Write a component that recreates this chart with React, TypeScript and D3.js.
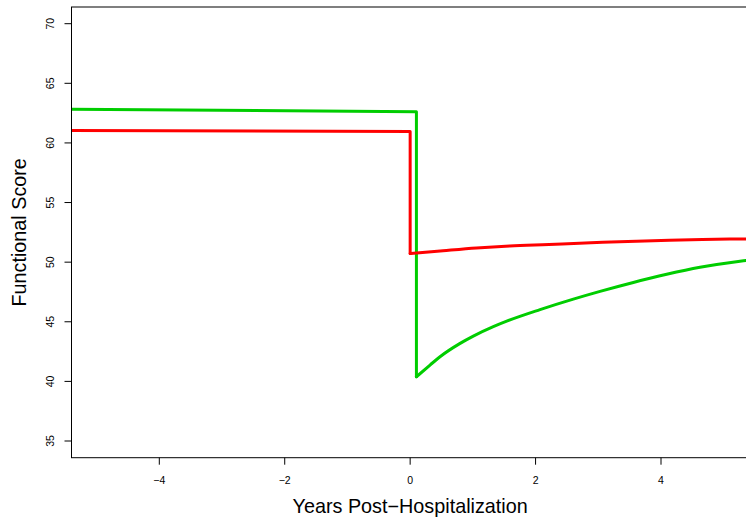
import React from "react";
import * as d3 from "d3";

// Pre-hospitalization level (step part) and recovery trajectory (years, score)
const greenStepX = [-6, 0.1, 0.1];
const greenStepY = [62.85, 62.62, 40.39];
const greenX = [0.1, 0.317, 0.476, 0.79, 1.007, 1.326, 1.54, 2.071, 2.602, 3.028, 3.559, 4.091, 4.622, 5.356, 5.6];
const greenY = [40.39, 41.37, 42.07, 43.17, 43.8, 44.59, 45.05, 46.02, 46.9, 47.55, 48.3, 48.98, 49.57, 50.15, 50.32];
const redStepX = [-6, 0.0, 0.0];
const redStepY = [61.05, 60.95, 50.72];
const redX = [0.0, 0.525, 1.057, 1.588, 2.11, 2.702, 3.07, 3.61, 4.135, 4.66, 5.34, 5.6];
const redY = [50.72, 50.96, 51.19, 51.36, 51.47, 51.58, 51.66, 51.76, 51.84, 51.9, 51.95, 51.97];

const xTicks = [-4, -2, 0, 2, 4];
const yTicks = [35, 40, 45, 50, 55, 60, 65, 70];

const W = 746;
const H = 518;
const L = 71.5;
const R = 748.8;
const T = 7;
const B = 457.7;

const fmt = (v: number) => (v < 0 ? "\u2212" + Math.abs(v) : String(v));

export default function App() {
  const x = d3.scaleLinear().domain([-5.4, 5.4]).range([L, R]);
  const y = d3.scaleLinear().domain([33.6, 71.4]).range([B, T]);
  const step = d3
    .line<[number, number]>()
    .x((d) => x(d[0]))
    .y((d) => y(d[1]));
  const curve = d3
    .line<[number, number]>()
    .x((d) => x(d[0]))
    .y((d) => y(d[1]))
    .curve(d3.curveMonotoneX);
  const zip = (a: number[], b: number[]): [number, number][] => a.map((v, i) => [v, b[i]]);
  const font = "'Liberation Sans', Arial, Helvetica, sans-serif";

  const series = [
    { color: "#00CD00", s: zip(greenStepX, greenStepY), c: zip(greenX, greenY) },
    { color: "#FF0000", s: zip(redStepX, redStepY), c: zip(redX, redY) },
  ];

  return (
    <svg
      width={W}
      height={H}
      style={{ position: "absolute", left: 0, top: 0, background: "#fff" }}
      fontFamily={font}
    >
      <defs>
        <clipPath id="plotclip">
          <rect x={L} y={T} width={R - L} height={B - T} />
        </clipPath>
      </defs>
      <g clipPath="url(#plotclip)">
        {series.map((sr, i) => (
          <g key={i}>
            <path d={step(sr.s) ?? ""} fill="none" stroke={sr.color} strokeWidth={3} strokeLinejoin="round" strokeLinecap="round" />
            <path d={curve(sr.c) ?? ""} fill="none" stroke={sr.color} strokeWidth={3} strokeLinejoin="round" strokeLinecap="round" />
          </g>
        ))}
      </g>
      <rect x={L} y={T} width={R - L} height={B - T} fill="none" stroke="#000" strokeWidth={1} />
      {xTicks.map((t) => (
        <g key={"x" + t}>
          <line x1={x(t)} x2={x(t)} y1={B} y2={B + 7} stroke="#000" strokeWidth={1} />
          <text x={x(t)} y={483.5} fontSize={10.5} textAnchor="middle" fill="#000">
            {fmt(t)}
          </text>
        </g>
      ))}
      {yTicks.map((t) => (
        <g key={"y" + t}>
          <line x1={L - 7} x2={L} y1={y(t)} y2={y(t)} stroke="#000" strokeWidth={1} />
          <text
            transform={`translate(54,${y(t)}) rotate(-90)`}
            fontSize={10.5}
            textAnchor="middle"
            fill="#000"
          >
            {t}
          </text>
        </g>
      ))}
      <text x={(L + R) / 2} y={512.5} fontSize={19.8} textAnchor="middle" fill="#000">
        Years Post{"\u2212"}Hospitalization
      </text>
      <text
        transform={`translate(25.5,${(T + B) / 2}) rotate(-90)`}
        fontSize={19.8}
        textAnchor="middle"
        fill="#000"
      >
        Functional Score
      </text>
    </svg>
  );
}
